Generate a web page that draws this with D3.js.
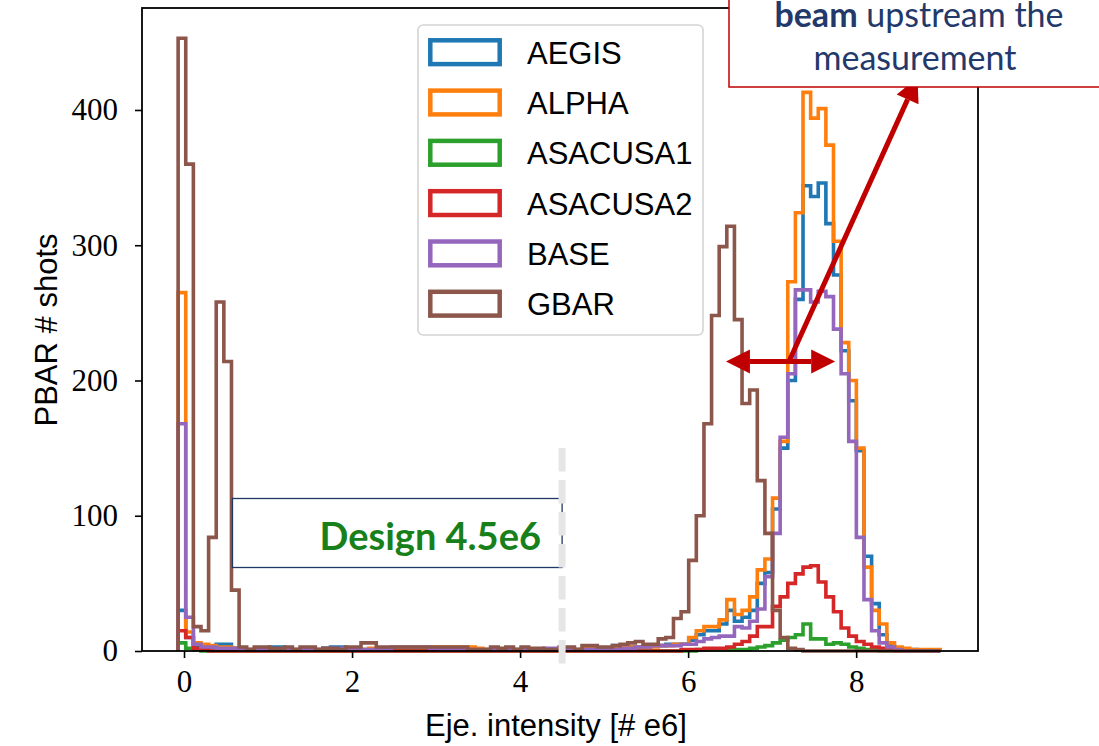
<!DOCTYPE html>
<html><head><meta charset="utf-8">
<script src="https://cdn.jsdelivr.net/npm/d3@7"></script>
<style>html,body{margin:0;padding:0;background:#fff;}svg{display:block}</style>
</head><body>
<svg id="chart" width="1099" height="746"></svg>
<script>
// ---------- data ----------
const seriesNames = ["AEGIS","ALPHA","ASACUSA1","ASACUSA2","BASE","GBAR"];
const seriesColors = ["#1f77b4","#ff7f0e","#2ca02c","#d62728","#9467bd","#8c564b"];
const binStart = -0.07, binEnd = 9.0, binCount = 100;

const aegis = [
 30,10,4,3,3,5,5,2,1,1,
 1,1,3,3,1,1,1,1,1,2,
 3,3,1,1,1,1,1,2,1,1,
 1,1,1,1,1,1,1,1,1,1,
 1,1,1,1,1,1,1,1,1,1,
 1,1,1,1,1,2,2,4,4,3,
 3,3,4,4,5,5,5,8,12,15,
 15,20,30,22,25,30,50,58,105,150,
 200,260,344,336,346,316,278,222,185,148,
 70,35,12,4,2,1,1,0,0,0];
const alpha = [
 265,14,6,5,4,3,3,2,1,1,
 2,1,1,1,1,1,1,1,1,1,
 1,1,2,1,1,2,2,2,2,2,
 2,2,2,3,3,3,3,3,3,2,
 1,1,1,1,1,1,1,1,1,1,
 1,1,1,2,2,2,2,3,3,3,
 3,3,3,4,4,5,5,10,15,18,
 18,23,38,27,30,40,60,68,113,155,
 273,324,413,394,401,374,303,228,200,150,
 62,30,20,6,3,2,1,1,1,1];
const asacusa1 = [
 6,2,1,0,0,0,0,0,0,0,
 0,0,0,0,0,0,0,0,0,0,
 0,0,0,0,0,0,0,0,0,0,
 0,0,0,0,0,0,0,0,0,0,
 0,0,0,0,0,0,0,0,0,0,
 0,0,0,0,0,0,0,0,0,0,
 0,0,0,0,0,0,0,0,1,1,
 1,1,1,1,1,2,3,4,6,8,
 10,12,20,9,9,5,6,5,3,2,
 1,1,0,0,0,0,0,0,0,0];
const asacusa2 = [
 15,10,2,1,0,0,0,0,0,0,
 0,0,0,0,0,0,0,0,0,0,
 0,0,0,0,0,0,0,0,0,0,
 0,0,0,0,0,0,0,0,0,0,
 0,0,0,0,0,0,0,0,0,0,
 0,0,0,0,0,0,0,0,0,0,
 0,0,0,0,0,0,1,1,1,2,
 2,2,3,5,7,11,18,18,33,40,
 50,57,62,63,51,40,29,17,11,7,
 5,3,2,1,0,0,0,0,0,0];
const base = [
 168,25,5,3,3,2,2,2,1,1,
 1,1,1,1,1,1,1,1,1,2,
 2,2,1,1,1,1,1,1,3,3,
 3,3,3,2,1,1,1,1,1,1,
 1,1,1,1,1,1,1,1,2,2,
 2,2,1,1,1,1,1,1,2,2,
 3,3,4,4,4,4,5,5,7,9,
 10,11,11,18,17,22,31,55,87,158,
 205,267,267,258,266,262,238,205,155,84,
 38,15,6,3,1,0,0,0,0,0];
const gbar = [
 453,360,18,15,84,258,214,45,3,1,
 3,3,2,2,3,1,3,3,1,2,
 2,1,3,3,6,6,3,3,3,3,
 3,3,3,3,3,3,3,3,1,1,
 1,3,2,3,1,3,2,2,1,1,
 3,3,1,4,4,3,3,4,5,6,
 7,5,5,9,10,24,29,67,100,168,
 248,299,314,245,183,193,126,87,30,10,
 2,1,0,0,0,0,0,0,0,0,
 0,0,0,0,0,0,0,0,0,0];
const seriesValues = [aegis, alpha, asacusa1, asacusa2, base, gbar];

const xTicks = [0,2,4,6,8];
const yTicks = [0,100,200,300,400];
const xLabel = "Eje. intensity [# e6]";
const yLabel = "PBAR # shots";
const designValue = 4.5;
const designText = "Design 4.5e6";
const spreadArrow = {x0: 6.45, x1: 7.75, y: 214};
const pointerArrow = {x0: 7.2, y0: 214, x1: 8.73, y1: 424};

// ---------- layout ----------
const svg = d3.select("#chart");
const plot = {left:142, right:978, top:8, bottom:651};
const x = d3.scaleLinear().domain([-0.5, 9.45]).range([plot.left, plot.right]);
const y = d3.scaleLinear().domain([0, 475.4]).range([plot.bottom, plot.top]);
const edges = d3.range(binCount + 1).map(i => binStart + i * (binEnd - binStart) / binCount);

const serif = "'Liberation Serif', 'DejaVu Serif', serif";
const sans = "'Liberation Sans', 'DejaVu Sans', sans-serif";
const lato = "Lato, 'Open Sans', sans-serif";

// ---------- histograms ----------
const line = d3.line().x(d => x(d[0])).y(d => y(d[1]));
seriesValues.forEach((vals, si) => {
  const pts = [[edges[0], 0]];
  vals.forEach((v, i) => { pts.push([edges[i], v]); pts.push([edges[i+1], v]); });
  pts.push([edges[binCount], 0]);
  svg.append("path").attr("d", line(pts))
    .attr("fill", "none").attr("stroke", seriesColors[si])
    .attr("stroke-width", 3.6).attr("stroke-linejoin", "miter");
});

// ---------- axes ----------
const xAxis = svg.append("g").attr("transform", `translate(0,${plot.bottom})`)
  .call(d3.axisBottom(x).tickValues(xTicks).tickSize(7).tickPadding(12).tickFormat(d3.format("d")));
const yAxis = svg.append("g").attr("transform", `translate(${plot.left},0)`)
  .call(d3.axisLeft(y).tickValues(yTicks).tickSize(7).tickPadding(17).tickFormat(d3.format("d")));
[xAxis, yAxis].forEach(g => {
  g.select(".domain").remove();
  g.selectAll(".tick line").attr("stroke", "#000").attr("stroke-width", 1.6);
  g.selectAll(".tick text").attr("fill", "#000").style("font-family", serif).style("font-size", "31px");
});
svg.append("rect").attr("x", plot.left).attr("y", plot.top)
  .attr("width", plot.right - plot.left).attr("height", plot.bottom - plot.top)
  .attr("fill", "none").attr("stroke", "#000").attr("stroke-width", 1.8);

svg.append("text").attr("x", (plot.left + plot.right) / 2 - 4).attr("y", 736)
  .attr("text-anchor", "middle").style("font-family", sans).style("font-size", "31px")
  .text(xLabel);
svg.append("text").attr("transform", "translate(57,330) rotate(-90)")
  .attr("text-anchor", "middle").style("font-family", sans).style("font-size", "31px")
  .text(yLabel);

// ---------- design annotation ----------
svg.append("rect").attr("x", 232.5).attr("y", 498.5).attr("width", x(designValue) - 232.5).attr("height", 69)
  .attr("fill", "#fff").attr("stroke", "#1f3864").attr("stroke-width", 1.3);
svg.append("text").attr("x", 541).attr("y", 550).attr("text-anchor", "end")
  .style("font-family", lato).style("font-weight", "bold").style("font-size", "38px")
  .attr("fill", "#17801a").text(designText);
svg.append("line").attr("x1", x(designValue)).attr("x2", x(designValue))
  .attr("y1", y(150)).attr("y2", plot.bottom + 14)
  .attr("stroke", "#e6e6e6").attr("stroke-width", 7).attr("stroke-dasharray", "23.5,8.5");

// ---------- legend ----------
const lg = svg.append("g");
lg.append("rect").attr("x", 418).attr("y", 25).attr("width", 285).attr("height", 310).attr("rx", 5)
  .attr("fill", "#fff").attr("fill-opacity", 0.85).attr("stroke", "#d4d4d4").attr("stroke-width", 1.6);
seriesNames.forEach((n, i) => {
  const cy = 52.2 + i * 50.3;
  lg.append("rect").attr("x", 430.3).attr("y", cy - 11.9).attr("width", 69.4).attr("height", 23.8)
    .attr("fill", "#fff").attr("stroke", seriesColors[i]).attr("stroke-width", 4.5);
  lg.append("text").attr("x", 527).attr("y", cy + 11.5)
    .style("font-family", sans).style("font-size", "31px").attr("fill", "#000").text(n);
});

// ---------- arrows ----------
const red = "#c00000";
function arrowHead(tx, ty, ux, uy) {
  const L = 24, w = 12;
  const bx = tx - L * ux, by = ty - L * uy;
  const nx = -uy, ny = ux;
  svg.append("path").attr("d", `M${tx},${ty}L${bx + w*nx},${by + w*ny}L${bx - w*nx},${by - w*ny}Z`).attr("fill", red);
  return [bx, by];
}
function arrowLine(ax, ay, bx, by, both) {
  const dx = bx - ax, dy = by - ay, len = Math.hypot(dx, dy);
  const ux = dx / len, uy = dy / len;
  const e = arrowHead(bx, by, ux, uy);
  let s = [ax, ay];
  if (both) s = arrowHead(ax, ay, -ux, -uy);
  svg.append("line").attr("x1", s[0]).attr("y1", s[1]).attr("x2", e[0]).attr("y2", e[1])
    .attr("stroke", red).attr("stroke-width", 5);
}
arrowLine(x(spreadArrow.x0), y(spreadArrow.y), x(spreadArrow.x1), y(spreadArrow.y), true);
arrowLine(x(pointerArrow.x0), y(pointerArrow.y0), x(pointerArrow.x1), y(pointerArrow.y1), false);

// ---------- top-right callout ----------
svg.append("rect").attr("x", 729).attr("y", -5).attr("width", 400).attr("height", 92)
  .attr("fill", "#fff").attr("stroke", red).attr("stroke-width", 1.5);
const t1 = svg.append("text").attr("x", 919).attr("y", 27).attr("text-anchor", "middle")
  .style("font-family", lato).style("font-size", "34px").attr("fill", "#22396a");
t1.append("tspan").style("font-weight", "bold").text("beam");
t1.append("tspan").text(" upstream the");
svg.append("text").attr("x", 915).attr("y", 70).attr("text-anchor", "middle")
  .style("font-family", lato).style("font-size", "34px").attr("fill", "#22396a").text("measurement");
</script>
</body></html>
